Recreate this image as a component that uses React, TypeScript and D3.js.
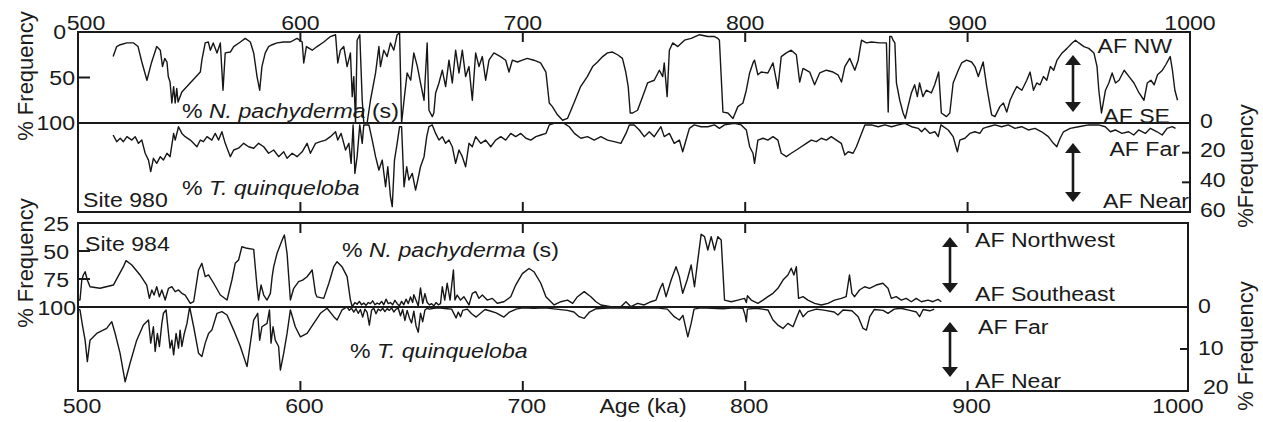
import React from "react";
import * as d3 from "d3";

type Pt = [number, number];

// ---- axis ticks ----
const ageTicks = [500, 600, 700, 800, 900, 1000];
const site980PachyTicks = [0, 50, 100];
const site980QuinqTicks = [0, 20, 40, 60];
const site984PachyTicks = [25, 50, 75, 100];
const site984QuinqTicks = [0, 10, 20];

// ---- Site 980: % N. pachyderma (s)  [age ka, %] ----
const site980Pachyderma: Pt[] = [
  [515.8,27],[517.4,16],[519,14],[522,12],[525,12],[527,16],[528.7,33],[531,53],[533,34],[535.4,16],[537,20],[538,38],[539,29],[540,33],[540.6,49],[541.4,55],[542.2,78],[543,60],[543.7,78],[544.4,62],[545,77],[546.7,66],[555,44],[555.7,31],[557.2,12],[558.6,11],[559.5,20],[560.8,12],[562.5,23],[564,12],[565.2,64],[566.2,23],[568.5,22],[570,16],[573,11],[575.2,7],[577.5,11],[579,23],[580.5,49],[581.7,64],[582.7,38],[584.2,23],[585.7,16],[587.3,14],[589.5,12],[592.5,11],[595.5,11],[598.5,7],[600.8,11],[601.5,34],[602.7,16],[605.3,20],[607.5,16],[610.5,11],[613.5,5],[615.8,3],[616.8,34],[618,20],[619.5,16],[621,38],[622.5,23],[623.3,71],[624,49],[624.8,100],[625.5,9],[626.7,3],[627.8,75],[628.5,100],[630,100],[631.5,75],[633.8,45],[635.3,16],[636,38],[637.5,20],[639,27],[640.5,12],[642,20],[643.5,3],[644.6,1],[645.5,100],[646.6,75],[648,45],[649.6,53],[651,23],[652.6,38],[654,56],[655.6,75],[657,12],[657.8,86],[659.3,93],[660,89],[660.8,67],[662.3,56],[663.8,42],[665.3,60],[666.8,31],[668.3,56],[669.8,20],[671.3,45],[672.8,20],[674.3,49],[675.8,38],[677.3,75],[678.8,23],[680.3,38],[681.8,27],[683.3,53],[684.8,31],[687,23],[690,27],[692.3,31],[693.8,44],[695.3,31],[697.6,33],[699.8,31],[702,29],[705,31],[708,34],[710.4,44],[711.9,78],[713.3,82],[715.6,91],[717.9,97],[720.1,95],[723,78],[726,60],[729,49],[731.4,38],[733.6,33],[735.9,27],[738.1,23],[740.3,22],[742.6,25],[744.8,29],[746.3,44],[747.4,60],[748.3,89],[749.4,89],[751.6,86],[753.9,71],[756.1,56],[759.1,53],[761.4,42],[762.9,49],[763.6,34],[764.9,71],[765.9,20],[767.4,12],[769.7,16],[772.7,9],[775.7,7],[779.5,3],[783.2,5],[786.2,5],[787.7,7],[788.4,9],[790,88],[792.2,89],[794.5,95],[796.7,82],[799,78],[800.5,64],[802,45],[803.5,34],[804.2,31],[805.7,47],[807.2,44],[810.2,45],[812.5,34],[814.7,62],[816.2,27],[818.5,23],[820.7,20],[823,25],[824.5,55],[826,40],[829,44],[831.2,58],[833.5,45],[836.5,42],[839.5,44],[841.7,47],[843.3,55],[844.8,38],[847,29],[849.3,42],[850.8,31],[852.3,9],[854.5,12],[856.8,11],[860.5,12],[863.5,12],[864.3,88],[865,5],[865.8,5],[866.5,9],[867.3,12],[868,56],[869.5,75],[871,89],[872,95],[873.2,82],[874.7,67],[876.2,58],[877.4,71],[878.4,56],[879.9,71],[881.4,64],[883.7,67],[885.2,58],[887,44],[888.2,89],[890.5,93],[892,89],[893.5,56],[895.8,42],[897.3,34],[899.5,31],[901.8,33],[903.3,38],[904.8,49],[907,33],[908.6,60],[910.8,91],[912.3,93],[914.5,82],[916.1,78],[917.6,88],[919.1,75],[920.6,67],[922.1,60],[924.4,64],[926.6,53],[928.1,44],[929.6,64],[931.1,56],[932.6,58],[934.1,49],[935.6,53],[937.2,38],[938.7,42],[940.2,31],[942.5,23],[944.7,18],[947,12],[948.5,9],[950,12],[952.3,16],[954.5,18],[956.8,23],[958.2,38],[959,64],[960.2,89],[962,64],[963.5,56],[965,45],[966.5,56],[968.1,53],[970.4,42],[972.6,49],[974.8,56],[977.1,67],[979.3,75],[980.8,56],[982.4,53],[983.9,58],[985.4,47],[987.6,42],[989.1,36],[991.1,27],[992.1,42],[993.2,64],[994.4,75],
];

// ---- Site 980: % T. quinqueloba ----
const site980Quinqueloba: Pt[] = [
  [515.8,8.1],[517.4,12.6],[519,10.3],[520.4,12.6],[522,9.2],[524.2,11.5],[525.7,9.2],[527.2,13.7],[528.7,11.5],[530.2,20.4],[531.7,25],[532.7,32.8],[533.9,23.8],[535.4,27.2],[537,22.7],[538.4,25],[540,20.4],[541.4,22.7],[543,7],[543.7,11.5],[545.2,2.5],[546.7,7],[548.2,9.2],[550.5,11.5],[553.5,16],[555,11.5],[556.4,12.6],[558,9.2],[560.2,11.5],[561.7,7],[563.2,11.5],[564.7,5.9],[566.2,13.7],[568.5,22.7],[570,18.2],[572.2,17],[574.5,13.7],[576.7,16],[579,17],[581.2,13.7],[583.5,16],[585.7,20.4],[588,18.2],[590.2,22.7],[592.5,19.4],[594,23.8],[596.3,20.4],[598.5,22.7],[600.8,19.4],[603,13.7],[604.5,20.4],[606.8,13.7],[609,12.6],[611.3,11.5],[613.5,9.2],[615.8,5.9],[616.8,11.5],[618.3,7],[620.3,18.2],[621.8,13.7],[622.8,27.2],[623.7,1.3],[624.5,34],[625.5,22.7],[626.7,1.3],[627.8,13.7],[628.5,1.3],[630.8,1.3],[632.3,11.5],[633.8,22.7],[635.3,31.7],[636.8,25],[638.3,43],[639.3,29.5],[640.5,49.7],[641.3,56.4],[642.3,25],[643.5,13.7],[644.6,2.5],[645.5,2.5],[646.6,43],[647.8,29.5],[648.8,38.4],[650.3,34],[651.8,45.2],[652.8,38.4],[654,29.5],[655.6,22.7],[656.8,9.2],[657.8,2.5],[659.3,1.3],[660.8,7],[662.3,11.5],[663.8,9.2],[665.3,13.7],[666.8,11.5],[668.3,16],[669.8,27.2],[671.3,18.2],[672.8,22.7],[674.3,29.5],[675.8,13.7],[677.3,16],[678.8,9.2],[681.1,13.7],[683.3,11.5],[685.6,16],[687.8,11.5],[690.1,9.2],[692.3,11.5],[694.6,7],[696.8,9.2],[699.1,7],[701.4,10.3],[703.6,11.5],[705.9,9.2],[708.1,8.1],[710.4,7],[711.9,1.3],[714.1,0.2],[718.6,0.2],[720.9,2.5],[723.2,7],[726.1,10.3],[729.1,9.2],[732.1,11.5],[735.1,9.2],[738.1,11.5],[741.1,12.6],[744.1,13.7],[746.4,7],[747.9,1.3],[750.1,1.3],[752.4,4.7],[754.6,9.2],[756.9,5.9],[759.1,9.2],[762.1,2.5],[763.6,9.2],[765.9,7],[768.1,13.7],[770.4,11.5],[771.9,19.4],[773.4,11.5],[774.9,3.6],[777.1,1.3],[780.1,2.5],[783.2,2.5],[786.2,1.3],[788.4,3.6],[790.7,1.3],[795.2,0.2],[798.2,1.3],[800.5,4.7],[802,16],[803.5,20.4],[804.2,27.2],[805.7,11.5],[808,10.3],[810.2,11.5],[812.5,9.2],[814.7,11.5],[816.2,20.4],[818.5,22.7],[820.7,20.4],[823,18.2],[825.2,16],[827.5,13.7],[829.7,11.5],[832,12.6],[834.2,10.3],[836.5,11.5],[838.7,9.2],[841,11.5],[843.2,13.7],[844.8,21.6],[846.3,19.4],[848.5,20.4],[850,16],[852.3,7],[853.8,1.3],[856.8,1.3],[859.8,2.5],[862.8,1.3],[865.8,2.5],[868.8,1.3],[871.8,0.2],[874.8,2.5],[877.8,3.6],[879.3,5.9],[880.8,3.6],[883.1,7],[885.3,5.9],[886.8,9.2],[888,1.3],[891.3,4.7],[893.5,9.2],[895.4,19.4],[896.5,11.5],[898.8,10.3],[901,7],[903.3,5.9],[905.5,7],[907,3.6],[909.3,2.5],[912.3,1.3],[915.3,2.5],[918.3,1.3],[921.3,3.6],[924.3,2.5],[927.3,4.7],[930.3,3.6],[933.3,5.9],[936.3,9.2],[938.6,13.7],[940.1,16],[941.6,10.3],[943.1,5.9],[946.1,3.6],[949.9,2.5],[954.4,1.3],[958.9,1.3],[961.9,2.5],[964.2,5.9],[966.4,4.7],[969.4,7],[972.4,5.9],[974.7,8.1],[976.9,4.7],[979.9,7],[982.2,3.6],[985.2,5.9],[987.5,8.1],[989.7,3.6],[992,2.5],[993.5,3.6],
];

// ---- Site 984: % N. pachyderma (s) ----
const site984Pachyderma: Pt[] = [
  [500,93.8],[500.9,93.8],[501.7,75.9],[502.4,71.4],[503.2,68.5],[504.2,75.9],[505.4,81.9],[509.9,83.3],[515.9,80.4],[520.4,64],[521.6,58.6],[524.2,62.5],[527.9,71.4],[530.9,80.4],[532.1,92.3],[533.2,84.8],[534.2,89.3],[535.4,81.9],[536.6,90.8],[537.7,84.8],[539.2,93.8],[540.7,83.3],[542.2,81.9],[543.7,86.3],[545.2,84.8],[546.7,87.8],[548.2,89.3],[550.5,96.7],[552,95.3],[554.2,67],[555.7,61],[557.2,72.9],[558.7,71.4],[561,78.8],[564,89.3],[567,93.8],[569.2,75.9],[570.7,61],[572.2,58],[573.7,46.2],[576,47.6],[579,48.5],[580.5,81.9],[581.2,93.8],[582.3,80.4],[583.5,89.3],[585,93.8],[586.5,87.8],[587.3,72.9],[588,64],[589.5,52.1],[591.8,40.2],[592.8,35.7],[594,52.1],[595.5,93.8],[597,83.3],[599.2,77.4],[601,76],[603,73],[605.3,67],[606.8,88],[607.5,91],[610.5,92.3],[612.8,78.8],[615,64],[616.5,59.5],[618.7,64],[621,72.9],[622.5,93.8],[623.3,99.7],
  [624.5,96],[625.5,97.5],[626.5,95],[627.5,98],[628.5,96.5],[629.5,98.5],[630.5,96],[631.5,97],[632.5,94.5],[633.5,98],[634.5,96.5],[635.5,97.5],[636.5,95],[637.5,98],[638.5,93],[639.5,97],[640.5,96],[641.5,98],[642.5,94],[643.5,97],[644.5,99],[645.5,95],[646.5,98],[647.5,93],[648.5,97],[649.5,91],[650.5,96],[651,89],[652,94],[653,99],[654,83],[655,97],[656,88],[657,96],[658,98],[659,97],[660,99],[661,96],[662,98],[663,97],
  [663.8,81.9],[664.9,93.8],[666,78.8],[667.3,93.8],[668.8,67],[669.5,93.8],[670.5,89.3],[672,93.8],[673.5,90.8],[675.8,98.2],[677.3,87.8],[678.8,86.3],[680.3,92.3],[681.8,89.3],[684,93.8],[686.3,92.3],[688.5,96.7],[691.5,95.3],[694.6,90.8],[696.8,80.4],[699.8,70.2],[702.8,65.6],[705,68.5],[708.1,78.8],[710.4,90.8],[714.1,98.2],[717.1,95.3],[720.1,93.8],[722.4,96.7],[724.6,90.8],[727.6,86.3],[730.6,90.8],[732.9,95.3],[735.1,98.2],[739.6,99.7],[744.1,99.7],[746.4,95.3],[748.6,99.7],[751.6,96.7],[754.6,98.2],[757.6,95.3],[759.9,93.8],[761.8,83.3],[762.9,78.8],[764.4,90.8],[766.7,75.9],[768.9,64],[770.4,72.9],[771.9,87.8],[773.9,75.9],[775.7,62.5],[777.2,81.9],[778.7,58],[780.2,35],[781.7,37.2],[783.2,49.1],[784.7,37.2],[786.2,49.1],[787.7,37.2],[789.2,40.2],[790.7,93.8],[793.7,95.3],[796.7,93.8],[799.7,92.3],[800.5,96],[801,90],[802.7,93.8],[805.7,96.7],[808,93.8],[810.2,90.8],[812.5,87.8],[814.7,83.3],[817,75.9],[819.2,71.4],[820.7,65.4],[821.9,71.4],[823,64],[824,92.3],[826,90.8],[828.2,93.8],[831.2,96.7],[834.2,98.2],[837.2,96.7],[840.2,93.8],[843.2,92.3],[845.4,90.8],[846.9,71.4],[848,87.8],[849.2,90.8],[851.4,84.8],[853.7,81.9],[855.9,83.3],[858.9,80.4],[861.9,78.8],[864.2,83.3],[865.7,92.3],[867.9,90.8],[870.2,93.8],[872.4,92.3],[874.7,95.3],[876.9,92.3],[879.2,95.3],[882.2,93.8],[884.4,95.3],[886.7,93.2],[888.2,95.3],
];

// ---- Site 984: % T. quinqueloba ----
const site984Quinqueloba: Pt[] = [
  [500,0.5],[500.9,0.7],[502.1,4.7],[503.2,7.9],[504.2,13],[505.4,7.9],[508.4,6.3],[512.9,5.1],[515.2,3.5],[516.7,6.3],[518.9,11],[521.2,17.8],[523.4,13.4],[526.4,7.9],[529.4,4.3],[531.7,3.1],[532.7,8.6],[533.9,4.7],[534.7,10.6],[535.7,6.3],[536.6,9.4],[537.7,3.9],[538.4,1.5],[539.6,0.7],[540.7,6.3],[541.4,9.8],[542.2,7.9],[543,11.4],[544.1,6.3],[545.2,9.8],[545.9,5.5],[546.7,9.4],[547.8,6.3],[549,3.9],[550.2,0],[552,4.7],[554.2,11],[555.7,11.8],[557.2,8.6],[558.7,6.3],[560.2,5.5],[562.5,1.5],[564.7,1.1],[567,1.9],[570,5.5],[573,9.4],[576,14.2],[577.5,8.6],[579,3.1],[580.8,1.5],[581.7,7.9],[582.7,4.7],[585,3.9],[586.1,0.7],[586.8,8.6],[587.7,4.7],[588.7,7.9],[590.2,9.4],[591,15],[592.5,11],[594,6.3],[595.5,0.7],[597.7,4.7],[600,7.1],[603,6.3],[606,3.9],[609,1.5],[612,0.3],[615,2.3],[616.5,3.1],[618.7,0.7],[621,0],
  [622,0.8],[623,0.3],[624,1.2],[625,0.4],[626,1.5],[627,0.6],[628,2.4],[629,0.5],[630,1.3],[631,4.3],[632,0.8],[633,0.3],[634,1.6],[635,0.5],[636,0.9],[637,0.3],[638,1.1],[639,0.4],[640,0.8],[641,0.2],[642,1.2],[643,0.5],[644,0.3],[645,2.1],[646,0.6],[647,3.2],[648,0.8],[649,2.6],[650,3.8],[651,1],[652,4.5],[653,6],[654,1.5],[655,3.5],[656,0.7],[657,0.3],[658,0.5],[660,0.3],[662,0.2],[664,0.3],[666,0.4],[668,0.5],[670,2.6],[671,1.2],[672,2.3],[673,0.8],[675,0.5],[677,1.6],[679,2.4],[681,1.5],[683,0.6],[685,0.9],[688,1.4],[691.5,2.4],[694,1.2],[697,0.5],[700,0.2],[705,0.3],[710,0.2],[715,0.5],[720,0.8],[723,1.2],[725.3,2.3],[727.6,2.7],[730,1.2],[733,0.4],[740,0.2],[750,0.3],[760,0.2],[765,0.5],[768.1,2.3],[770.4,3.1],[772,2],[774.2,7.1],[775.7,3.9],[777,0.5],[780,0.2],[785,0.3],[790,0.4],[795,0.2],[799,0.3],[800,2],[800.5,3.5],[801,0.5],[805,0.3],[810.2,0.7],[812.5,3.1],[814.7,4.3],[817,5.1],[819.2,3.9],[821.5,4.7],[823,2.7],[824.5,0.7],[826,2.3],[828.2,1.1],[832,0.5],[836,0.8],[840,1.2],[841.7,1.9],[844,0.7],[848,0.9],[850.8,2.3],[853,5.1],[854.5,5.5],[856,2.3],[858,0.6],[862,0.8],[864.2,1.5],[867,0.5],[870,0.3],[874,0.8],[877,1.2],[878.4,2.3],[880,0.6],[883,0.9],[885,0.5],
];

const FONT = "'Liberation Sans', Arial, Helvetica, sans-serif";
const INK = "#1a1a1a";

// plot geometry
const X0 = 78;
const X1 = 1190;
const TOP = { y0: 32, mid: 123, y1: 212, right: 1190 };
const BOT = { y0: 223, mid: 307, y1: 391, right: 1188 };

const x = d3.scaleLinear().domain([500, 1000]).range([X0, X1]);
const yTopPachy = d3.scaleLinear().domain([0, 100]).range([TOP.y0, TOP.mid]);
const yTopQuinq = d3.scaleLinear().domain([0, 60]).range([TOP.mid, TOP.y1]);
const yBotPachy = d3.scaleLinear().domain([25, 100]).range([BOT.y0, BOT.mid]);
const yBotQuinq = d3.scaleLinear().domain([0, 20]).range([BOT.mid, BOT.y1]);

function pathFor(data: Pt[], y: d3.ScaleLinear<number, number>) {
  return (
    d3
      .line<Pt>()
      .x((d) => x(d[0]))
      .y((d) => y(d[1]))(data) || ""
  );
}

function Txt({
  x: tx,
  y: ty,
  anchor = "start",
  size = 21,
  sx = 1.1,
  children,
}: {
  x: number;
  y: number;
  anchor?: string;
  size?: number;
  sx?: number;
  children: React.ReactNode;
}) {
  return (
    <text
      transform={`translate(${tx},${ty}) scale(${sx},1)`}
      textAnchor={anchor}
      fontSize={size}
      fontFamily={FONT}
      fill={INK}
    >
      {children}
    </text>
  );
}

function VText({ x: tx, y: ty, children }: { x: number; y: number; children: React.ReactNode }) {
  return (
    <text
      transform={`translate(${tx},${ty}) rotate(-90)`}
      textAnchor="middle"
      fontSize={22}
      fontFamily={FONT}
      fill={INK}
    >
      {children}
    </text>
  );
}

function DoubleArrow({ cx, y1, y2 }: { cx: number; y1: number; y2: number }) {
  const hw = 8;
  const hh = 10;
  return (
    <g fill={INK} stroke="none">
      <line x1={cx} x2={cx} y1={y1 + hh - 1} y2={y2 - hh + 1} stroke={INK} strokeWidth={2.6} />
      <path d={`M${cx},${y1} L${cx + hw},${y1 + hh} L${cx - hw},${y1 + hh} Z`} />
      <path d={`M${cx},${y2} L${cx + hw},${y2 - hh} L${cx - hw},${y2 - hh} Z`} />
    </g>
  );
}

function AgeTickMarks({ top, bottom, right }: { top: number; bottom: number; right: number }) {
  const inner = ageTicks.filter((t) => x(t) > X0 + 1 && x(t) < right - 1);
  return (
    <g stroke={INK} strokeWidth={2}>
      {inner.map((t) => (
        <g key={t}>
          <line x1={x(t)} x2={x(t)} y1={top} y2={top + 10} />
          <line x1={x(t)} x2={x(t)} y1={bottom} y2={bottom - 10} />
        </g>
      ))}
    </g>
  );
}

export default function App() {
  const curve = { fill: "none", stroke: "#161616", strokeWidth: 1.4, strokeLinejoin: "round" as const };

  return (
    <svg
      width={1263}
      height={422}
      viewBox="0 0 1263 422"
      style={{ position: "absolute", left: 0, top: 0, background: "#fff" }}
    >
      <rect width={1263} height={422} fill="#fff" />

      {/* ---------- Site 980 ---------- */}
      <path d={pathFor(site980Pachyderma, yTopPachy)} {...curve} />
      <path d={pathFor(site980Quinqueloba, yTopQuinq)} {...curve} />
      <rect x={X0} y={TOP.y0} width={TOP.right - X0} height={TOP.y1 - TOP.y0} fill="none" stroke={INK} strokeWidth={2} />
      <line x1={X0} x2={TOP.right} y1={TOP.mid} y2={TOP.mid} stroke={INK} strokeWidth={2} />
      <AgeTickMarks top={TOP.y0} bottom={TOP.y1} right={TOP.right} />
      {site980PachyTicks
        .filter((v) => v > 0 && v < 100)
        .map((v) => (
          <line key={v} x1={X0} x2={X0 + 12} y1={yTopPachy(v)} y2={yTopPachy(v)} stroke={INK} strokeWidth={2} />
        ))}
      {site980QuinqTicks
        .filter((v) => v > 0 && v < 60)
        .map((v) => (
          <line key={v} x1={TOP.right - 8} x2={TOP.right} y1={yTopQuinq(v)} y2={yTopQuinq(v)} stroke={INK} strokeWidth={2} />
        ))}

      {/* top age axis labels */}
      {ageTicks.map((t) => (
        <Txt key={t} x={t === 500 ? x(t) + 8 : x(t)} y={30} anchor="middle">
          {t}
        </Txt>
      ))}
      {site980PachyTicks.map((v) => (
        <Txt key={v} x={v === 0 ? 66 : 75} y={yTopPachy(v) + 7} anchor="end">
          {v}
        </Txt>
      ))}
      {site980QuinqTicks.map((v) => (
        <Txt key={v} x={1200} y={yTopQuinq(v) + 4.5}>
          {v}
        </Txt>
      ))}
      <VText x={33} y={76}>% Frequency</VText>
      <VText x={1253} y={166}>%Frequency</VText>

      <Txt x={182} y={118}>
        % <tspan fontStyle="italic">N. pachyderma</tspan> (s)
      </Txt>
      <Txt x={182} y={195}>
        % <tspan fontStyle="italic">T. quinqueloba</tspan>
      </Txt>
      <Txt x={83} y={207}>Site 980</Txt>

      <Txt x={1172} y={53} anchor="end">AF NW</Txt>
      <Txt x={1170} y={123} anchor="end">AF SE</Txt>
      <Txt x={1180} y={156} anchor="end">AF Far</Txt>
      <Txt x={1189} y={208} anchor="end">AF Near</Txt>
      <DoubleArrow cx={1073} y1={55} y2={112} />
      <DoubleArrow cx={1073} y1={143} y2={202} />

      {/* ---------- Site 984 ---------- */}
      <path d={pathFor(site984Pachyderma, yBotPachy)} {...curve} />
      <path d={pathFor(site984Quinqueloba, yBotQuinq)} {...curve} />
      <rect x={X0} y={BOT.y0} width={BOT.right - X0} height={BOT.y1 - BOT.y0} fill="none" stroke={INK} strokeWidth={2} />
      <line x1={X0} x2={BOT.right} y1={BOT.mid} y2={BOT.mid} stroke={INK} strokeWidth={2} />
      <AgeTickMarks top={BOT.y0} bottom={BOT.y1} right={BOT.right} />
      {site984PachyTicks
        .filter((v) => v > 25 && v < 100)
        .map((v) => (
          <line key={v} x1={X0} x2={X0 + 12} y1={yBotPachy(v)} y2={yBotPachy(v)} stroke={INK} strokeWidth={2} />
        ))}
      {site984QuinqTicks
        .filter((v) => v > 0 && v < 20)
        .map((v) => (
          <line key={v} x1={BOT.right - 8} x2={BOT.right} y1={yBotQuinq(v)} y2={yBotQuinq(v)} stroke={INK} strokeWidth={2} />
        ))}

      {ageTicks.map((t) => (
        <Txt key={t} x={t === 1000 ? x(t) - 12 : x(t) + 4} y={413} anchor="middle">
          {t}
        </Txt>
      ))}
      {site984PachyTicks.map((v) => (
        <Txt key={v} x={v === 100 ? 76 : 69} y={yBotPachy(v) + 7.5} anchor="end">
          {v}
        </Txt>
      ))}
      {site984QuinqTicks.map((v) => (
        <Txt key={v} x={v === 20 ? 1203 : 1198} y={v === 20 ? yBotQuinq(v) + 3 : yBotQuinq(v) + 5.5}>
          {v}
        </Txt>
      ))}
      <VText x={33} y={263}>% Frequency</VText>
      <VText x={1253} y={346}>% Frequency</VText>

      <Txt x={643} y={413} anchor="middle">Age (ka)</Txt>

      <Txt x={85} y={251}>Site 984</Txt>
      <Txt x={342} y={257}>
        % <tspan fontStyle="italic">N. pachyderma</tspan> (s)
      </Txt>
      <Txt x={350} y={358}>
        % <tspan fontStyle="italic">T. quinqueloba</tspan>
      </Txt>

      <Txt x={975} y={247}>AF Northwest</Txt>
      <Txt x={975} y={301}>AF Southeast</Txt>
      <Txt x={978} y={334}>AF Far</Txt>
      <Txt x={975} y={388}>AF Near</Txt>
      <DoubleArrow cx={950} y1={237} y2={293} />
      <DoubleArrow cx={950} y1={322} y2={377} />
    </svg>
  );
}
